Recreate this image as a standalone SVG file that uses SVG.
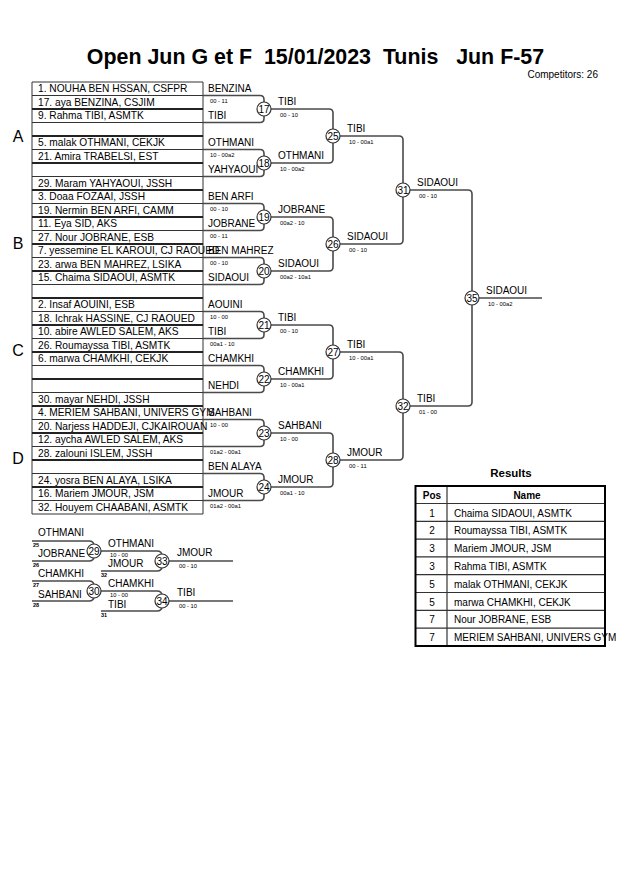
<svg xmlns="http://www.w3.org/2000/svg" width="630" height="891" viewBox="0 0 630 891">
<style>
text{font-family:"Liberation Sans",Arial,sans-serif;fill:#000;font-size:10px}
.b{font-weight:bold}
.s{font-size:5.8px}
.n{font-size:5.5px;font-weight:bold}
.m{text-anchor:middle}
.ln{fill:none;stroke:#4a4a4a;stroke-width:1.6}
.thin{stroke:#333;stroke-width:1}
.thick{stroke:#222;stroke-width:2}
.c{fill:#fff;stroke:#333;stroke-width:1.2}
.pool{font-size:16px;text-anchor:middle}
.lt{font-size:10.2px}
</style>
<rect width="630" height="891" fill="#fff"/>
<g id="title">
<text x="315.5" y="64" class="b m" style="font-size:21.4px" xml:space="preserve">Open Jun G et F  15/01/2023  Tunis   Jun F-57</text>
<text x="598" y="78" style="text-anchor:end">Competitors: 26</text>
</g>
<g id="list">
<line class="thin" x1="32" y1="82" x2="203" y2="82"/>
<line class="thin" x1="32" y1="514" x2="203" y2="514"/>
<line class="thin" x1="32" y1="82" x2="32" y2="514"/>
<line class="thin" x1="203" y1="82" x2="203" y2="514"/>
<g class="thin">
<line x1="32" y1="95.5" x2="203" y2="95.5"/><line x1="32" y1="122.5" x2="203" y2="122.5"/>
<line x1="32" y1="149.5" x2="203" y2="149.5"/><line x1="32" y1="176.5" x2="203" y2="176.5"/>
<line x1="32" y1="203.5" x2="203" y2="203.5"/><line x1="32" y1="230.5" x2="203" y2="230.5"/>
<line x1="32" y1="257.5" x2="203" y2="257.5"/><line x1="32" y1="284.5" x2="203" y2="284.5"/>
<line x1="32" y1="311.5" x2="203" y2="311.5"/><line x1="32" y1="338.5" x2="203" y2="338.5"/>
<line x1="32" y1="365.5" x2="203" y2="365.5"/><line x1="32" y1="392.5" x2="203" y2="392.5"/>
<line x1="32" y1="419.5" x2="203" y2="419.5"/><line x1="32" y1="446.5" x2="203" y2="446.5"/>
<line x1="32" y1="473.5" x2="203" y2="473.5"/><line x1="32" y1="500.5" x2="203" y2="500.5"/>
</g>
<g class="thick">
<line x1="32" y1="109" x2="203" y2="109"/><line x1="32" y1="136" x2="203" y2="136"/>
<line x1="32" y1="163" x2="203" y2="163"/><line x1="32" y1="190" x2="203" y2="190"/>
<line x1="32" y1="217" x2="203" y2="217"/><line x1="32" y1="244" x2="203" y2="244"/>
<line x1="32" y1="271" x2="203" y2="271"/><line x1="32" y1="298" x2="203" y2="298"/>
<line x1="32" y1="325" x2="203" y2="325"/><line x1="32" y1="352" x2="203" y2="352"/>
<line x1="32" y1="379" x2="203" y2="379"/><line x1="32" y1="406" x2="203" y2="406"/>
<line x1="32" y1="433" x2="203" y2="433"/><line x1="32" y1="460" x2="203" y2="460"/>
<line x1="32" y1="487" x2="203" y2="487"/>
</g>
<text class="pool" x="18" y="142">A</text>
<text class="pool" x="18" y="249">B</text>
<text class="pool" x="18" y="356">C</text>
<text class="pool" x="18" y="464">D</text>
<g class="lt">
<text class="lt" x="38" y="92">1. NOUHA BEN HSSAN, CSFPR</text>
<text class="lt" x="38" y="105.5">17. aya BENZINA, CSJIM</text>
<text class="lt" x="38" y="119">9. Rahma TIBI, ASMTK</text>
<text class="lt" x="38" y="146">5. malak OTHMANI, CEKJK</text>
<text class="lt" x="38" y="159.5">21. Amira TRABELSI, EST</text>
<text class="lt" x="38" y="186.5">29. Maram YAHYAOUI, JSSH</text>
<text class="lt" x="38" y="200">3. Doaa FOZAAI, JSSH</text>
<text class="lt" x="38" y="213.5">19. Nermin BEN ARFI, CAMM</text>
<text class="lt" x="38" y="227">11. Eya SID, AKS</text>
<text class="lt" x="38" y="240.5">27. Nour JOBRANE, ESB</text>
<text class="lt" x="38" y="254">7. yessemine EL KAROUI, CJ RAOUED</text>
<text class="lt" x="38" y="267.5">23. arwa BEN MAHREZ, LSIKA</text>
<text class="lt" x="38" y="281">15. Chaima SIDAOUI, ASMTK</text>
<text class="lt" x="38" y="308">2. Insaf AOUINI, ESB</text>
<text class="lt" x="38" y="321.5">18. Ichrak HASSINE, CJ RAOUED</text>
<text class="lt" x="38" y="335">10. abire AWLED SALEM, AKS</text>
<text class="lt" x="38" y="348.5">26. Roumayssa TIBI, ASMTK</text>
<text class="lt" x="38" y="362">6. marwa CHAMKHI, CEKJK</text>
<text class="lt" x="38" y="402.5">30. mayar NEHDI, JSSH</text>
<text class="lt" x="38" y="416">4. MERIEM SAHBANI, UNIVERS GYM</text>
<text class="lt" x="38" y="429.5">20. Narjess HADDEJI, CJKAIROUAN</text>
<text class="lt" x="38" y="443">12. aycha AWLED SALEM, AKS</text>
<text class="lt" x="38" y="456.5">28. zalouni ISLEM, JSSH</text>
<text class="lt" x="38" y="483.5">24. yosra BEN ALAYA, LSIKA</text>
<text class="lt" x="38" y="497">16. Mariem JMOUR, JSM</text>
<text class="lt" x="38" y="510.5">32. Houyem CHAABANI, ASMTK</text>
</g>
</g>
<g id="connectors" class="ln">
<path d="M203 95.5H260Q264 95.5 264 99.5V102M203 122.5H260Q264 122.5 264 118.5V116"/>
<path d="M203 149.5H260Q264 149.5 264 153.5V156M203 176.5H260Q264 176.5 264 172.5V170"/>
<path d="M203 203.5H260Q264 203.5 264 207.5V210M203 230.5H260Q264 230.5 264 226.5V224"/>
<path d="M203 257.5H260Q264 257.5 264 261.5V264M203 284.5H260Q264 284.5 264 280.5V278"/>
<path d="M203 311.5H260Q264 311.5 264 315.5V318M203 338.5H260Q264 338.5 264 334.5V332"/>
<path d="M203 365.5H260Q264 365.5 264 369.5V372M203 392.5H260Q264 392.5 264 388.5V386"/>
<path d="M203 419.5H260Q264 419.5 264 423.5V426M203 446.5H260Q264 446.5 264 442.5V440"/>
<path d="M203 473.5H260Q264 473.5 264 477.5V480M203 500.5H260Q264 500.5 264 496.5V494"/>
<path d="M271 109H329Q333 109 333 113V129M271 163H329Q333 163 333 159V143"/>
<path d="M271 217H329Q333 217 333 221V237M271 271H329Q333 271 333 267V251"/>
<path d="M271 325H329Q333 325 333 329V345M271 379H329Q333 379 333 375V359"/>
<path d="M271 433H329Q333 433 333 437V453M271 487H329Q333 487 333 483V467"/>
<path d="M340 136H399Q403 136 403 140V183M340 244H399Q403 244 403 240V197"/>
<path d="M340 352H399Q403 352 403 356V399M340 460H399Q403 460 403 456V413"/>
<path d="M410 190H468Q472 190 472 194V291M410 406H468Q472 406 472 402V305"/>
<path d="M479 298H542"/>
<path d="M32 541H89Q94 541 94 546M32 561H89Q94 561 94 556"/>
<path d="M101 551H157Q162 551 162 556M101 571H157Q162 571 162 566"/>
<path d="M169 561H233"/>
<path d="M32 581H89Q94 581 94 586M32 601H89Q94 601 94 596"/>
<path d="M101 591H157Q162 591 162 596M101 611H157Q162 611 162 606"/>
<path d="M169 601H233"/>
</g>
<g id="round1-labels">
<text x="208" y="92">BENZINA</text><text class="s" x="210" y="103">00 - 11</text><text x="208" y="119">TIBI</text>
<text x="208" y="146">OTHMANI</text><text class="s" x="210" y="157">10 - 00a2</text><text x="208" y="173">YAHYAOUI</text>
<text x="208" y="200">BEN ARFI</text><text class="s" x="210" y="211">00 - 10</text><text x="208" y="227">JOBRANE</text><text class="s" x="210" y="238">00 - 11</text>
<text x="208" y="254">BEN MAHREZ</text><text class="s" x="210" y="265">00 - 10</text><text x="208" y="281">SIDAOUI</text>
<text x="208" y="308">AOUINI</text><text class="s" x="210" y="319">10 - 00</text><text x="208" y="335">TIBI</text><text class="s" x="210" y="346">00a1 - 10</text>
<text x="208" y="362">CHAMKHI</text><text x="208" y="389">NEHDI</text>
<text x="208" y="416">SAHBANI</text><text class="s" x="210" y="427">10 - 00</text><text class="s" x="210" y="454">01a2 - 00a1</text>
<text x="208" y="470">BEN ALAYA</text><text x="208" y="497">JMOUR</text><text class="s" x="210" y="508">01a2 - 00a1</text>
</g>
<g id="m17"><circle class="c" cx="264" cy="109" r="7"/><text class="m" x="264" y="112.5">17</text><text x="278" y="104.5">TIBI</text><text class="s" x="280" y="116.5">00 - 10</text></g>
<g id="m18"><circle class="c" cx="264" cy="163" r="7"/><text class="m" x="264" y="166.5">18</text><text x="278" y="158.5">OTHMANI</text><text class="s" x="280" y="170.5">10 - 00a2</text></g>
<g id="m19"><circle class="c" cx="264" cy="217" r="7"/><text class="m" x="264" y="220.5">19</text><text x="278" y="212.5">JOBRANE</text><text class="s" x="280" y="224.5">00a2 - 10</text></g>
<g id="m20"><circle class="c" cx="264" cy="271" r="7"/><text class="m" x="264" y="274.5">20</text><text x="278" y="266.5">SIDAOUI</text><text class="s" x="280" y="278.5">00a2 - 10a1</text></g>
<g id="m21"><circle class="c" cx="264" cy="325" r="7"/><text class="m" x="264" y="328.5">21</text><text x="278" y="320.5">TIBI</text><text class="s" x="280" y="332.5">00 - 10</text></g>
<g id="m22"><circle class="c" cx="264" cy="379" r="7"/><text class="m" x="264" y="382.5">22</text><text x="278" y="374.5">CHAMKHI</text><text class="s" x="280" y="386.5">10 - 00a1</text></g>
<g id="m23"><circle class="c" cx="264" cy="433" r="7"/><text class="m" x="264" y="436.5">23</text><text x="278" y="428.5">SAHBANI</text><text class="s" x="280" y="440.5">10 - 00</text></g>
<g id="m24"><circle class="c" cx="264" cy="487" r="7"/><text class="m" x="264" y="490.5">24</text><text x="278" y="482.5">JMOUR</text><text class="s" x="280" y="494.5">00a1 - 10</text></g>
<g id="m25"><circle class="c" cx="333" cy="136" r="7"/><text class="m" x="333" y="139.5">25</text><text x="347" y="131.5">TIBI</text><text class="s" x="349" y="143.5">10 - 00a1</text></g>
<g id="m26"><circle class="c" cx="333" cy="244" r="7"/><text class="m" x="333" y="247.5">26</text><text x="347" y="239.5">SIDAOUI</text><text class="s" x="349" y="251.5">00 - 10</text></g>
<g id="m27"><circle class="c" cx="333" cy="352" r="7"/><text class="m" x="333" y="355.5">27</text><text x="347" y="347.5">TIBI</text><text class="s" x="349" y="359.5">10 - 00a1</text></g>
<g id="m28"><circle class="c" cx="333" cy="460" r="7"/><text class="m" x="333" y="463.5">28</text><text x="347" y="455.5">JMOUR</text><text class="s" x="349" y="467.5">00 - 11</text></g>
<g id="m31"><circle class="c" cx="403" cy="190" r="7"/><text class="m" x="403" y="193.5">31</text><text x="417" y="185.5">SIDAOUI</text><text class="s" x="419" y="197.5">00 - 10</text></g>
<g id="m32"><circle class="c" cx="403" cy="406" r="7"/><text class="m" x="403" y="409.5">32</text><text x="417" y="401.5">TIBI</text><text class="s" x="419" y="413.5">01 - 00</text></g>
<g id="m35"><circle class="c" cx="472" cy="298" r="7"/><text class="m" x="472" y="301.5">35</text><text x="486" y="293.5">SIDAOUI</text><text class="s" x="488" y="305.5">10 - 00a2</text></g>
<g id="m29"><circle class="c" cx="94" cy="551" r="7"/><text class="m" x="94" y="554.5">29</text>
<text x="38" y="536">OTHMANI</text><text class="n" x="33" y="546.5">25</text><text x="38" y="556.5">JOBRANE</text><text class="n" x="33" y="566.5">26</text></g>
<g id="m33"><circle class="c" cx="162" cy="561" r="7"/><text class="m" x="162" y="564.5">33</text>
<text x="108" y="546.5">OTHMANI</text><text class="s" x="110" y="557">10 - 00</text><text x="108" y="567">JMOUR</text><text class="n" x="101" y="576.5">32</text>
<text x="177" y="556">JMOUR</text><text class="s" x="179" y="568">00 - 10</text></g>
<g id="m30"><circle class="c" cx="94" cy="591" r="7"/><text class="m" x="94" y="594.5">30</text>
<text x="38" y="577">CHAMKHI</text><text class="n" x="33" y="586.5">27</text><text x="38" y="597.5">SAHBANI</text><text class="n" x="33" y="606.5">28</text></g>
<g id="m34"><circle class="c" cx="162" cy="601" r="7"/><text class="m" x="162" y="604.5">34</text>
<text x="108" y="587">CHAMKHI</text><text class="s" x="110" y="597">10 - 00</text><text x="108" y="607.5">TIBI</text><text class="n" x="101" y="616.5">31</text>
<text x="177" y="596">TIBI</text><text class="s" x="179" y="608">00 - 10</text></g>
<g id="results">
<text class="b m" x="511" y="477" style="font-size:11.5px">Results</text>
<g stroke="#333" stroke-width="1.2">
<line x1="415.5" y1="503.5" x2="605" y2="503.5"/>
<line x1="415.5" y1="521.3" x2="605" y2="521.3"/>
<line x1="415.5" y1="539.1" x2="605" y2="539.1"/>
<line x1="415.5" y1="556.9" x2="605" y2="556.9"/>
<line x1="415.5" y1="574.7" x2="605" y2="574.7"/>
<line x1="415.5" y1="592.5" x2="605" y2="592.5"/>
<line x1="415.5" y1="610.3" x2="605" y2="610.3"/>
<line x1="415.5" y1="628.1" x2="605" y2="628.1"/>
<line x1="447" y1="486" x2="447" y2="646"/>
</g>
<rect x="415.5" y="486" width="189.5" height="160" fill="none" stroke="#000" stroke-width="2"/>
<text class="b m" x="432" y="498.5">Pos</text><text class="b m" x="527" y="498.5">Name</text>
<text class="m" x="432" y="516.5">1</text><text x="454" y="516.5">Chaima SIDAOUI, ASMTK</text>
<text class="m" x="432" y="534.3">2</text><text x="454" y="534.3">Roumayssa TIBI, ASMTK</text>
<text class="m" x="432" y="552.1">3</text><text x="454" y="552.1">Mariem JMOUR, JSM</text>
<text class="m" x="432" y="569.9">3</text><text x="454" y="569.9">Rahma TIBI, ASMTK</text>
<text class="m" x="432" y="587.7">5</text><text x="454" y="587.7">malak OTHMANI, CEKJK</text>
<text class="m" x="432" y="605.5">5</text><text x="454" y="605.5">marwa CHAMKHI, CEKJK</text>
<text class="m" x="432" y="623.3">7</text><text x="454" y="623.3">Nour JOBRANE, ESB</text>
<text class="m" x="432" y="641.1">7</text><text x="454" y="641.1">MERIEM SAHBANI, UNIVERS GYM</text>
</g>
</svg>
